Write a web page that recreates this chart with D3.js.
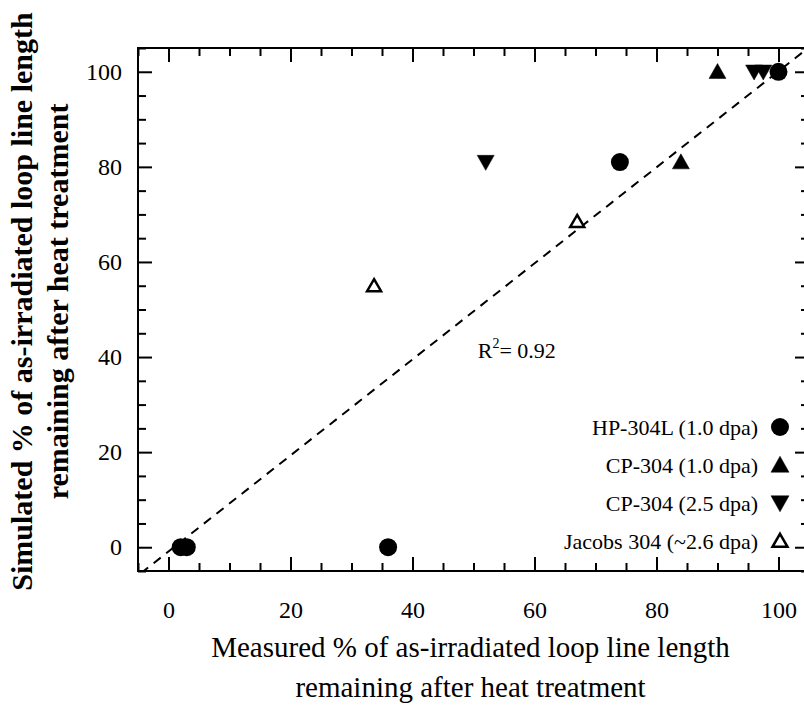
<!DOCTYPE html>
<html>
<head>
<meta charset="utf-8">
<script src="https://cdn.jsdelivr.net/npm/d3@7"></script>
<style>
  body { margin: 0; background: #fff; }
  svg { display: block; }
  text { font-family: "Liberation Serif", "Times New Roman", serif; fill: #000; }
</style>
</head>
<body>
<div id="wrapper"></div>
<script>
// measured vs simulated (%) for each material
const hpX = [2, 3, 36, 74, 100];
const hpY = [0, 0, 0, 81, 100];
const cp10X = [84, 90];
const cp10Y = [81, 100];
const cp25X = [52, 96, 97.5];
const cp25Y = [81, 100, 100];
const jacobsX = [33.7, 67];
const jacobsY = [55, 68.5];

const legendLabels = ["HP-304L (1.0 dpa)", "CP-304 (1.0 dpa)", "CP-304 (2.5 dpa)", "Jacobs 304 (~2.6 dpa)"];
const majorTicks = [0, 20, 40, 60, 80, 100];
const minorTicks = d3.range(-5, 106, 5).filter(d => d % 20 !== 0);

// fit line
const fitSlope = 1.01;
const fitIntercept = -0.9;
const fitRange = [-4.5, 105];

const dimensions = {
	width: 804,
	height: 705,
	margin: { top: 48, right: -5, bottom: 134, left: 138 }
};
dimensions.boundedWidth = dimensions.width - dimensions.margin.left - dimensions.margin.right;
dimensions.boundedHeight = dimensions.height - dimensions.margin.top - dimensions.margin.bottom;

const svg = d3.select("#wrapper").append("svg")
	.attr("width", dimensions.width)
	.attr("height", dimensions.height)
	.attr("font-family", "Liberation Serif, Times New Roman, serif");

const bounds = svg.append("g")
	.attr("transform", `translate(${dimensions.margin.left},${dimensions.margin.top})`);

const xScale = d3.scaleLinear().domain([-5, 105]).range([0, dimensions.boundedWidth]);
const yScale = d3.scaleLinear().domain([-5, 105]).range([dimensions.boundedHeight, 0]);

bounds.append("clipPath").attr("id", "clip")
	.append("rect")
	.attr("width", dimensions.boundedWidth)
	.attr("height", dimensions.boundedHeight);

// axes, ticks pointing inward on all four sides
function styleAxis(g) {
	g.attr("font-family", null);
	g.select(".domain").remove();
	g.selectAll(".tick line").attr("stroke", "#000").attr("stroke-width", 2);
	g.selectAll(".tick text").style("font-size", "24px");
}

bounds.append("g")
	.attr("transform", `translate(0,${dimensions.boundedHeight})`)
	.call(d3.axisBottom(xScale).tickValues(majorTicks).tickSize(-14).tickPadding(30))
	.call(styleAxis);
bounds.append("g")
	.attr("transform", `translate(0,${dimensions.boundedHeight})`)
	.call(d3.axisBottom(xScale).tickValues(minorTicks).tickSize(-8).tickFormat(""))
	.call(styleAxis);
bounds.append("g")
	.call(d3.axisTop(xScale).tickValues(majorTicks).tickSize(-14).tickFormat(""))
	.call(styleAxis);
bounds.append("g")
	.call(d3.axisTop(xScale).tickValues(minorTicks).tickSize(-8).tickFormat(""))
	.call(styleAxis);

bounds.append("g")
	.call(d3.axisLeft(yScale).tickValues(majorTicks).tickSize(-14).tickPadding(16))
	.call(styleAxis);
bounds.append("g")
	.call(d3.axisLeft(yScale).tickValues(minorTicks).tickSize(-8).tickFormat(""))
	.call(styleAxis);
bounds.append("g")
	.attr("transform", `translate(${dimensions.boundedWidth},0)`)
	.call(d3.axisRight(yScale).tickValues(majorTicks).tickSize(-14).tickFormat(""))
	.call(styleAxis);
bounds.append("g")
	.attr("transform", `translate(${dimensions.boundedWidth},0)`)
	.call(d3.axisRight(yScale).tickValues(minorTicks).tickSize(-8).tickFormat(""))
	.call(styleAxis);

bounds.append("rect")
	.attr("width", dimensions.boundedWidth)
	.attr("height", dimensions.boundedHeight)
	.attr("fill", "none")
	.attr("stroke", "#000")
	.attr("stroke-width", 2);

// dashed fit line
const fitLine = d3.line()
	.x(d => xScale(d))
	.y(d => yScale(fitSlope * d + fitIntercept));
bounds.append("path")
	.attr("clip-path", "url(#clip)")
	.attr("d", fitLine(fitRange))
	.attr("fill", "none")
	.attr("stroke", "#000")
	.attr("stroke-width", 2)
	.attr("stroke-dasharray", "9,7");

function triangle(up, w, h) {
	const s = up ? 1 : -1;
	return `M0,${-s * h * 0.55}L${w / 2},${s * h * 0.45}L${-w / 2},${s * h * 0.45}Z`;
}

const marks = bounds.append("g");

function drawSeries(xs, ys, kind) {
	const pts = d3.zip(xs, ys);
	if (kind === "circle") {
		marks.selectAll(null).data(pts).join("circle")
			.attr("cx", d => xScale(d[0]))
			.attr("cy", d => yScale(d[1]))
			.attr("r", 9)
			.attr("fill", "#000");
	} else {
		marks.selectAll(null).data(pts).join("path")
			.attr("transform", d => `translate(${xScale(d[0])},${yScale(d[1])})`)
			.attr("d", kind === "open" ? triangle(true, 14, 12) : triangle(kind === "up", 17, 15))
			.attr("fill", kind === "open" ? "#fff" : "#000")
			.attr("stroke", "#000")
			.attr("stroke-width", kind === "open" ? 2.5 : 0.5)
			.attr("stroke-linejoin", "miter");
	}
}

drawSeries(jacobsX, jacobsY, "open");
drawSeries(cp25X, cp25Y, "down");
drawSeries(cp10X, cp10Y, "up");
drawSeries(hpX, hpY, "circle");

// R^2 label
const r2 = bounds.append("text")
	.attr("x", xScale(50.7))
	.attr("y", yScale(39.9))
	.style("font-size", "22px");
r2.append("tspan").text("R");
r2.append("tspan").attr("dy", -10).style("font-size", "14px").text("2");
r2.append("tspan").attr("dy", 10).text("= 0.92");

// legend
const legendKinds = ["circle", "up", "down", "open"];
const legend = svg.append("g").attr("transform", "translate(780,427)");
legendLabels.forEach((label, i) => {
	const row = legend.append("g").attr("transform", `translate(0,${i * 38})`);
	row.append("text")
		.attr("x", -22)
		.attr("y", 8)
		.attr("text-anchor", "end")
		.style("font-size", "22px")
		.text(label);
	const kind = legendKinds[i];
	if (kind === "circle") {
		row.append("circle").attr("r", 9).attr("fill", "#000");
	} else {
		row.append("path")
			.attr("d", kind === "open" ? triangle(true, 15, 13) : triangle(kind === "up", 18, 16))
			.attr("fill", kind === "open" ? "#fff" : "#000")
			.attr("stroke", "#000")
			.attr("stroke-width", kind === "open" ? 2.5 : 0.5);
	}
});

// axis titles
const xTitle = svg.append("text")
	.attr("text-anchor", "middle")
	.attr("transform", `translate(${dimensions.margin.left + dimensions.boundedWidth / 2 - 3},0)`)
	.style("font-size", "29px");
xTitle.append("tspan").attr("x", 0).attr("y", 657).text("Measured % of as-irradiated loop line length");
xTitle.append("tspan").attr("x", 0).attr("y", 697).text("remaining after heat treatment");

const yTitle = svg.append("text")
	.attr("text-anchor", "middle")
	.attr("transform", `translate(0,${dimensions.margin.top + dimensions.boundedHeight / 2 - 8}) rotate(-90)`)
	.style("font-size", "30px")
	.style("font-weight", "bold");
yTitle.append("tspan").attr("x", 0).attr("y", 32).text("Simulated % of as-irradiated loop line length");
yTitle.append("tspan").attr("x", 0).attr("y", 68).text("remaining after heat treatment");
</script>
</body>
</html>
